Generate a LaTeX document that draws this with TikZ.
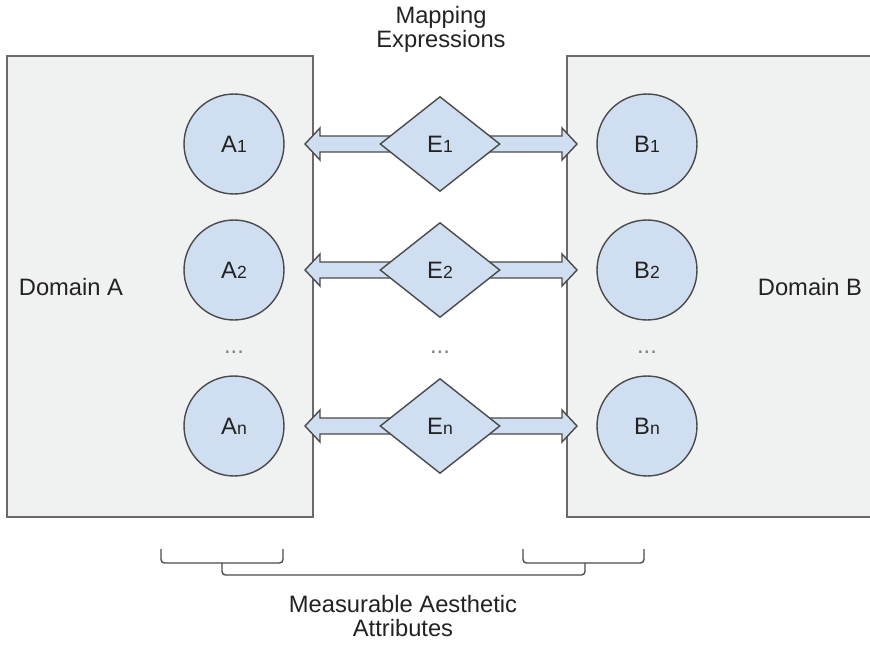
\documentclass[tikz,border=0pt]{standalone}
\usepackage{fontspec}
\setmainfont{Liberation Sans}
\usepackage{tikz}
\usetikzlibrary{shapes.geometric, positioning}

\definecolor{boxfill}{HTML}{F0F1F1}
\definecolor{boxline}{HTML}{6A6A6A}
\definecolor{itemfill}{HTML}{CFDFF1}
\definecolor{itemline}{HTML}{4A4A4A}
\definecolor{ink}{HTML}{222222}

% smaller index digit sitting on the baseline
\newcommand{\idx}[1]{{\fontsize{10}{12}\selectfont #1}}
% fat two-headed arrow from x=305 to x=577 at height #1
\newcommand{\fatarrow}[1]{%
  \filldraw[mapping] (305, #1) -- (320, #1-16) -- (320, #1-8) -- (562, #1-8)
    -- (562, #1-16) -- (577, #1) -- (562, #1+16) -- (562, #1+8)
    -- (320, #1+8) -- (320, #1+16) -- cycle;}

\tikzset{
  domainbox/.style={fill=boxfill, draw=boxline, line width=1.3pt},
  attr/.style={draw=itemline, fill=itemfill, circle, line width=0.8pt, minimum size=2cm, inner sep=0pt, text=ink},
  expr/.style={draw=itemline, fill=itemfill, diamond, line width=0.8pt, minimum width=2.4cm, minimum height=1.9cm, inner sep=0pt, text=ink},
  mapping/.style={draw=itemline, fill=itemfill, line width=0.8pt, line join=miter},
  skip/.style={text=gray},
  caption/.style={align=center, text=ink},
  brace/.style={draw=itemline, line width=0.8pt, rounded corners=2pt}
}

\begin{document}
\begin{tikzpicture}[x=0.02cm, y=-0.02cm, font=\fontsize{13.5}{13.8}\selectfont]
	\useasboundingbox (0, 0) rectangle (870, 649);

	% the two domains
	\filldraw[domainbox] (7, 56) rectangle (313, 517);
	\fill[boxfill] (567, 56) rectangle (870, 517);
	\draw[boxline, line width=1.3pt] (870, 56) -- (567, 56) -- (567, 517) -- (870, 517);
	\node[text=ink] (da) at (71, 287) {Domain A};
	\node[text=ink] (db) at (810, 287) {Domain B};

	% mapping arrows sit behind the expressions
	\fatarrow{144}
	\fatarrow{270}
	\fatarrow{426}

	\node[attr] (A1) at (234, 144) {A\idx{1}};
	\node[attr] (A2) at (234, 270) {A\idx{2}};
	\node[attr] (An) at (234, 426) {A\idx{n}};
	\node[expr] (E1) at (440, 144) {E\idx{1}};
	\node[expr] (E2) at (440, 270) {E\idx{2}};
	\node[expr] (En) at (440, 426) {E\idx{n}};
	\node[attr] (B1) at (647, 144) {B\idx{1}};
	\node[attr] (B2) at (647, 270) {B\idx{2}};
	\node[attr] (Bn) at (647, 426) {B\idx{n}};

	\node[skip] (ad) at (234, 352) {...};
	\node[skip] (ed) at (440, 352) {...};
	\node[skip] (bd) at (647, 352) {...};

	\node[caption] (map) at (441, 29) {Mapping\\Expressions};

	% brackets under the attributes
	\coordinate (la) at (161, 549);
	\coordinate (ra) at (283, 549);
	\coordinate (lb) at (523, 549);
	\coordinate (rb) at (644, 549);
	\draw[brace] (la) -- (161, 563) -- (283, 563) -- (ra);
	\draw[brace] (lb) -- (523, 563) -- (644, 563) -- (rb);
	\draw[brace] (222, 563) -- (222, 575) -- (585, 575) -- (585, 563);

	\node[caption] (mea) at (403, 616) {Measurable Aesthetic\\Attributes};
\end{tikzpicture}
\end{document}
